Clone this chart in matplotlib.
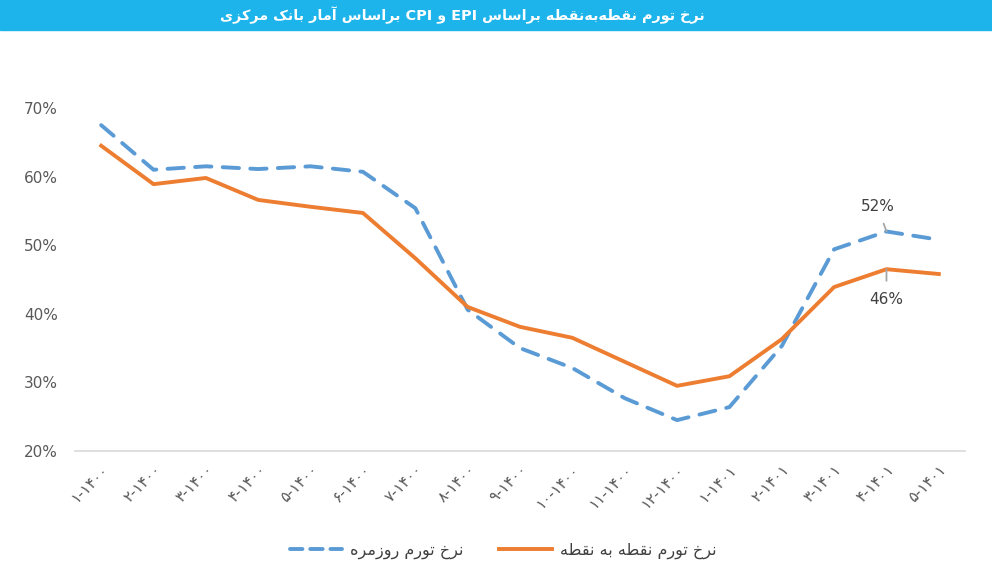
import matplotlib
matplotlib.use("Agg")
import matplotlib.pyplot as plt
from matplotlib.lines import Line2D
from matplotlib.ticker import FuncFormatter

# ---------------- data ----------------
categories = ["1-1400", "2-1400", "3-1400", "4-1400", "5-1400", "6-1400",
              "7-1400", "8-1400", "9-1400", "10-1400", "11-1400", "12-1400",
              "1-1401", "2-1401", "3-1401", "4-1401", "5-1401"]
daily_rate = [67.5, 61.0, 61.5, 61.1, 61.5, 60.7, 55.4, 40.6, 35.0, 32.1,
              27.7, 24.5, 26.4, 35.3, 49.4, 52.0, 50.8]
p2p_rate = [64.5, 58.9, 59.8, 56.6, 55.6, 54.7, 48.1, 41.0, 38.1, 36.5,
            33.0, 29.5, 30.9, 36.3, 43.9, 46.5, 45.8]
y_ticks = [20, 30, 40, 50, 60, 70]
title_rtl_left = "براساس آمار بانک مرکزی"
title_rtl_right = "نرخ تورم نقطه\u200cبه\u200cنقطه براساس"
legend_daily = "نرخ تورم روزمره"
legend_p2p = "نرخ تورم نقطه به نقطه"

# ---------------- simple Persian shaping (matplotlib has no bidi) ----------------
FORMS = {
    'ا': ('\uFE8D', '\uFE8E', None, None),
    'آ': ('\uFE81', '\uFE82', None, None),
    'ب': ('\uFE8F', '\uFE90', '\uFE91', '\uFE92'),
    'ت': ('\uFE95', '\uFE96', '\uFE97', '\uFE98'),
    'خ': ('\uFEA5', '\uFEA6', '\uFEA7', '\uFEA8'),
    'ر': ('\uFEAD', '\uFEAE', None, None),
    'ز': ('\uFEAF', '\uFEB0', None, None),
    'س': ('\uFEB1', '\uFEB2', '\uFEB3', '\uFEB4'),
    'ط': ('\uFEC1', '\uFEC2', '\uFEC3', '\uFEC4'),
    'ق': ('\uFED5', '\uFED6', '\uFED7', '\uFED8'),
    'م': ('\uFEE1', '\uFEE2', '\uFEE3', '\uFEE4'),
    'ن': ('\uFEE5', '\uFEE6', '\uFEE7', '\uFEE8'),
    'ه': ('\uFEE9', '\uFEEA', '\uFEEB', '\uFEEC'),
    'و': ('\uFEED', '\uFEEE', None, None),
    'ک': ('\uFB8E', '\uFB8F', '\uFB90', '\uFB91'),
    'ی': ('\uFBFC', '\uFBFD', '\uFBFE', '\uFBFF'),
}
DUAL = {c for c, f in FORMS.items() if f[2] is not None}
JOINING = set(FORMS)


def rtl(s):
    chars = list(s)
    out = []
    for i, c in enumerate(chars):
        if c == '\u200c':
            continue
        if c not in FORMS:
            out.append(c)
            continue
        prev = chars[i - 1] if i > 0 else None
        nxt = chars[i + 1] if i + 1 < len(chars) else None
        jp = prev in DUAL
        jn = (c in DUAL) and (nxt in JOINING)
        iso, fin, ini, med = FORMS[c]
        g = med if (jp and jn) else fin if jp else ini if jn else iso
        out.append(g)
    return ''.join(out)[::-1]


FA_DIGITS = str.maketrans("0123456789", "۰۱۲۳۴۵۶۷۸۹")


def fa_label(cat):
    return cat.translate(FA_DIGITS)


BLUE = "#5B9BD5"
ORANGE = "#ED7D31"

# ---------------- figure ----------------
plt.rcParams['font.family'] = ['DejaVu Sans']
fig = plt.figure(figsize=(9.92, 5.70), dpi=100)

# title band
fig.patches.append(plt.Rectangle((0, 1 - 30 / 570), 1, 30 / 570,
                                 transform=fig.transFigure,
                                 color="#1CB4EA", zorder=0))
title = rtl(title_rtl_left) + " CPI " + rtl("و") + " EPI " + rtl(title_rtl_right)
fig.text(0.466, 1 - 15 / 570, title, ha="center", va="center",
         color="white", fontsize=10.4, fontweight="bold")

ax = fig.add_axes([75 / 992, 119 / 570, 890 / 992, (451 - 108) / 570])
x = list(range(len(categories)))
ax.plot(x, daily_rate, color=BLUE, lw=2.8, ls=(0, (4.2, 2.9)),
        dash_capstyle="round")
ax.plot(x, p2p_rate, color=ORANGE, lw=2.8)

ax.set_xlim(-0.5, len(categories) - 0.5)
ax.set_ylim(20, 70)
ax.set_yticks(y_ticks)
ax.yaxis.set_major_formatter(FuncFormatter(lambda v, p: f"{v:.0f}%"))
ax.set_xticks(x)
ax.set_xticklabels([fa_label(c) for c in categories], rotation=45,
                   ha="right", rotation_mode="anchor", fontsize=11,
                   color="#595959")
for s in ["top", "right", "left"]:
    ax.spines[s].set_visible(False)
ax.spines["bottom"].set_color("#D9D9D9")
ax.spines["bottom"].set_linewidth(1.2)
ax.tick_params(axis="y", length=0, labelsize=11, labelcolor="#595959", pad=12.5)
ax.tick_params(axis="x", length=0, pad=8)

# data labels
i52 = 15
ax.annotate(f"{daily_rate[i52]:.0f}%", xy=(i52, daily_rate[i52]),
            xytext=(i52 - 0.17, daily_rate[i52] + 3.6),
            ha="center", va="center", fontsize=11, color="#404040",
            arrowprops=dict(arrowstyle="-", color="#A6A6A6", lw=1.3,
                            shrinkA=5, shrinkB=0))
ax.annotate(f"{p2p_rate[i52]:.0f}%", xy=(i52, p2p_rate[i52]),
            xytext=(i52, p2p_rate[i52] - 4.4),
            ha="center", va="center", fontsize=11, color="#404040",
            arrowprops=dict(arrowstyle="-", color="#A6A6A6", lw=1.3,
                            shrinkA=6, shrinkB=0))

handles = [Line2D([], [], color=BLUE, lw=2.8, ls=(0, (3.2, 2.0)),
                  dash_capstyle="round"),
           Line2D([], [], color=ORANGE, lw=2.8)]
labels = [rtl(legend_daily), rtl(legend_p2p)]
fig.legend(handles, labels, loc="center", bbox_to_anchor=(0.507, 1 - 551 / 570),
           ncol=2, frameon=False, fontsize=11.5, handlelength=3.3,
           handletextpad=0.5, columnspacing=2.2, labelcolor="#404040")

fig.savefig("out.png", dpi=100)
